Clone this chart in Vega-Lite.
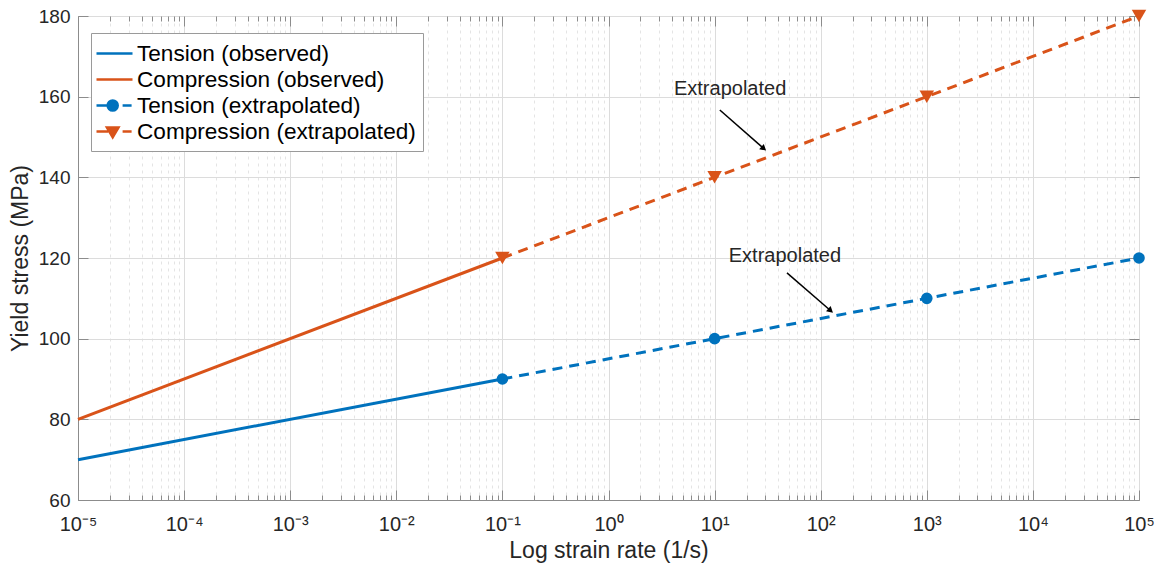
{
  "$schema": "https://vega.github.io/schema/vega-lite/v6.json",
  "width": 1061,
  "height": 484,
  "autosize": {"type": "none"},
  "padding": {"left": 78, "top": 16, "right": 26, "bottom": 68},
  "background": "white",
  "config": {
    "font": "Liberation Sans",
    "view": {"stroke": "#8c8c8c", "strokeWidth": 1}
  },
  "datasets": {
    "lines": [
      {"series": "Tension (observed)", "x": 0.00001, "y": 70},
      {"series": "Tension (observed)", "x": 0.1, "y": 90},
      {"series": "Compression (observed)", "x": 0.00001, "y": 80},
      {"series": "Compression (observed)", "x": 0.1, "y": 120},
      {"series": "Tension (extrapolated)", "x": 0.1, "y": 90},
      {"series": "Tension (extrapolated)", "x": 10, "y": 100},
      {"series": "Tension (extrapolated)", "x": 1000, "y": 110},
      {"series": "Tension (extrapolated)", "x": 100000, "y": 120},
      {"series": "Compression (extrapolated)", "x": 0.1, "y": 120},
      {"series": "Compression (extrapolated)", "x": 10, "y": 140},
      {"series": "Compression (extrapolated)", "x": 1000, "y": 160},
      {"series": "Compression (extrapolated)", "x": 100000, "y": 180}
    ],
    "arrows": [
      {"x": 11.2, "y": 156.7, "x2": 28.6, "y2": 147.3},
      {"x": 48.1, "y": 116.3, "x2": 122, "y2": 107.1}
    ],
    "notes": [
      {"x": 14, "y": 161.9, "text": "Extrapolated"},
      {"x": 46, "y": 120.5, "text": "Extrapolated"}
    ]
  },
  "resolve": {"axis": {"x": "independent", "y": "independent"}},
  "layer": [
    {
      "data": {"name": "lines"},
      "transform": [{"filter": "indexof(datum.series, 'observed') >= 0"}],
      "mark": {"type": "line", "strokeWidth": 3},
      "encoding": {
        "x": {
          "field": "x", "type": "quantitative",
          "scale": {"type": "log", "domain": [0.00001, 100000], "nice": false},
          "axis": {
            "orient": "bottom",
            "title": "Log strain rate (1/s)",
            "titleFontSize": 23, "titleFontWeight": "normal", "titleColor": "#262626", "titlePadding": 0,
            "values": [0.00001,0.00002,0.00003,0.00004,0.00005,0.00006,0.00007,0.00008,0.00009,
                       0.0001,0.0002,0.0003,0.0004,0.0005,0.0006,0.0007,0.0008,0.0009,
                       0.001,0.002,0.003,0.004,0.005,0.006,0.007,0.008,0.009,
                       0.01,0.02,0.03,0.04,0.05,0.06,0.07,0.08,0.09,
                       0.1,0.2,0.3,0.4,0.5,0.6,0.7,0.8,0.9,
                       1,2,3,4,5,6,7,8,9,
                       10,20,30,40,50,60,70,80,90,
                       100,200,300,400,500,600,700,800,900,
                       1000,2000,3000,4000,5000,6000,7000,8000,9000,
                       10000,20000,30000,40000,50000,60000,70000,80000,90000,
                       100000],
            "labelExpr": "abs(log(datum.value)/LN10 - round(log(datum.value)/LN10)) < 0.001 ? '10' + ['⁻⁵','⁻⁴','⁻³','⁻²','⁻¹','⁰','¹','²','³','⁴','⁵'][round(log(datum.value)/LN10)+5] : ''",
            "labelOverlap": false,
            "labelFlush": false,
            "labelFontSize": 20, "labelColor": "#262626", "labelPadding": 24,
            "grid": true,
            "gridColor": {"condition": {"test": "abs(log(datum.value)/LN10 - round(log(datum.value)/LN10)) < 0.001", "value": "#dcdcdc"}, "value": "#e4e4e4"},
            "gridDash": {"condition": {"test": "abs(log(datum.value)/LN10 - round(log(datum.value)/LN10)) < 0.001", "value": []}, "value": [3, 4]},
            "tickSize": {"condition": {"test": "abs(log(datum.value)/LN10 - round(log(datum.value)/LN10)) < 0.001", "value": -10}, "value": -5},
            "tickColor": "#8c8c8c",
            "domainColor": "#8c8c8c"
          }
        },
        "y": {
          "field": "y", "type": "quantitative",
          "scale": {"domain": [60, 180], "nice": false, "zero": false},
          "axis": {
            "orient": "left",
            "title": "Yield stress (MPa)",
            "titleFontSize": 23, "titleFontWeight": "normal", "titleColor": "#262626", "titlePadding": 6,
            "values": [60, 80, 100, 120, 140, 160, 180],
            "labelFontSize": 19, "labelColor": "#262626", "labelPadding": 18,
            "grid": true, "gridColor": "#dcdcdc",
            "tickSize": -10, "tickColor": "#8c8c8c", "domainColor": "#8c8c8c"
          }
        },
        "detail": {"field": "series"},
        "color": {
          "field": "series", "type": "nominal",
          "scale": {"domain": ["Tension (observed)", "Tension (extrapolated)", "Compression (observed)", "Compression (extrapolated)"],
                    "range": ["#0072BD", "#0072BD", "#D95319", "#D95319"]},
          "legend": null
        }
      }
    },
    {
      "data": {"name": "lines"},
      "transform": [{"filter": "indexof(datum.series, 'extrapolated') >= 0"}],
      "mark": {"type": "line", "strokeWidth": 3, "strokeDash": [10, 7]},
      "encoding": {
        "x": {"field": "x", "type": "quantitative", "axis": null},
        "y": {"field": "y", "type": "quantitative", "axis": null},
        "color": {"field": "series", "type": "nominal", "legend": null}
      }
    },
    {
      "data": {"name": "lines"},
      "transform": [{"filter": "datum.series === 'Tension (extrapolated)'"}],
      "mark": {"type": "point", "shape": "circle", "filled": true, "opacity": 1, "size": 135},
      "encoding": {
        "x": {"field": "x", "type": "quantitative", "axis": null},
        "y": {"field": "y", "type": "quantitative", "axis": null},
        "color": {"field": "series", "type": "nominal", "legend": null}
      }
    },
    {
      "data": {"name": "lines"},
      "transform": [{"filter": "datum.series === 'Compression (extrapolated)'"}],
      "mark": {"type": "point", "shape": "triangle-down", "filled": true, "opacity": 1, "size": 210},
      "encoding": {
        "x": {"field": "x", "type": "quantitative", "axis": null},
        "y": {"field": "y", "type": "quantitative", "axis": null},
        "color": {"field": "series", "type": "nominal", "legend": null}
      }
    },
    {
      "data": {"name": "lines"},
      "transform": [{"filter": "false"}],
      "mark": {"type": "point", "filled": true, "opacity": 1, "size": 576, "strokeWidth": 2.5},
      "encoding": {
        "x": {"field": "x", "type": "quantitative", "axis": null},
        "y": {"field": "y", "type": "quantitative", "axis": null},
        "fill": {
          "field": "series", "type": "nominal",
          "scale": {"domain": ["Tension (observed)", "Compression (observed)", "Tension (extrapolated)", "Compression (extrapolated)"],
                    "range": ["#0072BD", "#D95319", "#0072BD", "#D95319"]},
          "legend": {
            "title": null,
            "orient": "none",
            "legendX": 13,
            "legendY": 17,
            "fillColor": "white",
            "strokeColor": "#9a9a9a",
            "padding": 7,
            "labelFontSize": 22.6,
            "labelColor": "#000000",
            "symbolOffset": 3,
            "labelOffset": 9,
            "labelLimit": 400,
            "rowPadding": -2,
            "symbolSize": 576,
            "symbolStrokeWidth": 2.5
          }
        },
        "stroke": {
          "field": "series", "type": "nominal",
          "scale": {"domain": ["Tension (observed)", "Compression (observed)", "Tension (extrapolated)", "Compression (extrapolated)"],
                    "range": ["#0072BD", "#D95319", "#0072BD", "#D95319"]}
        },
        "shape": {
          "field": "series", "type": "nominal",
          "scale": {"domain": ["Tension (observed)", "Compression (observed)", "Tension (extrapolated)", "Compression (extrapolated)"],
                    "range": ["M-1.5,0H1.5", "M-1.5,0H1.5",
                              "M-1.5,0H-0.57 M0.675,0H1.425 M0.27,0A0.42,0.42 0 1 1 -0.57,0A0.42,0.42 0 1 1 0.27,0Z",
                              "M-1.5,0H-0.525 M0.675,0H1.425 M-0.63,-0.33H0.33L-0.15,0.48Z"]}
        }
      }
    },
    {
      "data": {"name": "arrows"},
      "mark": {"type": "rule", "color": "black", "strokeWidth": 1.5},
      "encoding": {
        "x": {"field": "x", "type": "quantitative", "axis": null},
        "y": {"field": "y", "type": "quantitative", "axis": null},
        "x2": {"field": "x2"},
        "y2": {"field": "y2"}
      }
    },
    {
      "data": {"name": "arrows"},
      "mark": {"type": "point", "shape": "triangle", "filled": true, "color": "black", "opacity": 1, "size": 50, "angle": 131},
      "encoding": {
        "x": {"field": "x2", "type": "quantitative", "axis": null},
        "y": {"field": "y2", "type": "quantitative", "axis": null}
      }
    },
    {
      "data": {"name": "notes"},
      "mark": {"type": "text", "fontSize": 20, "color": "#262626", "align": "center", "baseline": "middle"},
      "encoding": {
        "x": {"field": "x", "type": "quantitative", "axis": null},
        "y": {"field": "y", "type": "quantitative", "axis": null},
        "text": {"field": "text"}
      }
    },
    {
      "data": {"name": "lines"},
      "mark": {"type": "point", "opacity": 0},
      "encoding": {
        "x": {
          "field": "x", "type": "quantitative",
          "axis": {
            "orient": "top", "title": null, "labels": false, "grid": false, "domain": false,
            "values": [0.00001,0.00002,0.00003,0.00004,0.00005,0.00006,0.00007,0.00008,0.00009,
                       0.0001,0.0002,0.0003,0.0004,0.0005,0.0006,0.0007,0.0008,0.0009,
                       0.001,0.002,0.003,0.004,0.005,0.006,0.007,0.008,0.009,
                       0.01,0.02,0.03,0.04,0.05,0.06,0.07,0.08,0.09,
                       0.1,0.2,0.3,0.4,0.5,0.6,0.7,0.8,0.9,
                       1,2,3,4,5,6,7,8,9,
                       10,20,30,40,50,60,70,80,90,
                       100,200,300,400,500,600,700,800,900,
                       1000,2000,3000,4000,5000,6000,7000,8000,9000,
                       10000,20000,30000,40000,50000,60000,70000,80000,90000,
                       100000],
            "tickSize": {"condition": {"test": "abs(log(datum.value)/LN10 - round(log(datum.value)/LN10)) < 0.001", "value": -10}, "value": -5},
            "tickColor": "#8c8c8c"
          }
        },
        "y": {
          "field": "y", "type": "quantitative",
          "axis": {
            "orient": "right", "title": null, "labels": false, "grid": false, "domain": false,
            "values": [60, 80, 100, 120, 140, 160, 180],
            "tickSize": -10, "tickColor": "#8c8c8c"
          }
        }
      }
    }
  ]
}
